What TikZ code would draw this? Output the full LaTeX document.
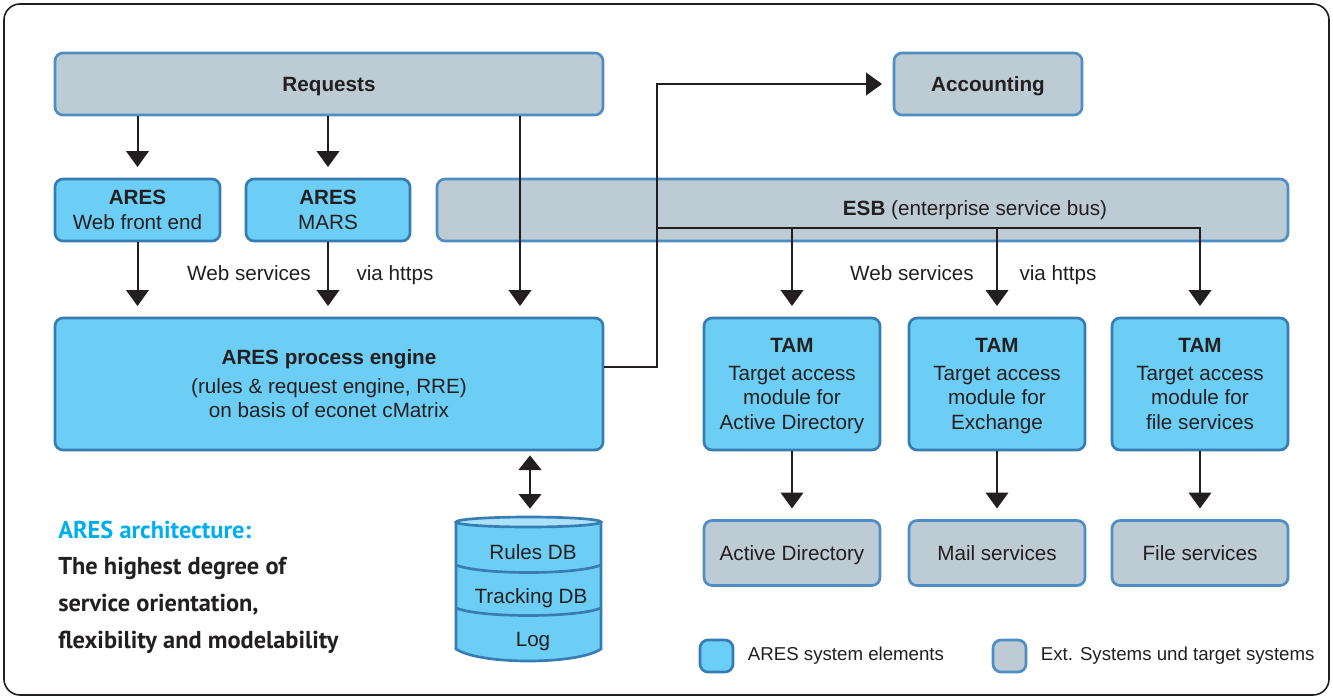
\documentclass[tikz,border=0pt]{standalone}
\usepackage{fontspec}
\setmainfont{Liberation Sans}
\newfontfamily\notefont{PT Sans}
\usetikzlibrary{arrows.meta,positioning}

\definecolor{aresfill}{RGB}{108,206,245}
\definecolor{aresline}{RGB}{55,125,180}
\definecolor{extfill}{RGB}{189,203,212}
\definecolor{extline}{RGB}{78,142,196}
\definecolor{dbtopfill}{RGB}{170,226,249}
\definecolor{titlecyan}{RGB}{0,174,239}
\definecolor{ink}{RGB}{35,31,32}

\newcommand\tstrut{\rule[-3.5pt]{0pt}{17.5pt}}

\tikzset{
  every node/.style={text=ink, font=\fontsize{15.5}{18.5}\selectfont},
  sz/.style 2 args={minimum width=#1*0.75pt, minimum height=#2*0.75pt},
  aresbox/.style={draw=aresline, fill=aresfill, line width=2pt, rounded corners=6pt, align=center, inner sep=0pt},
  extbox/.style={draw=extline, fill=extfill, line width=2pt, rounded corners=6pt, align=center, inner sep=0pt},
  arr/.style={draw=ink, line width=1.5pt, -{Triangle[width=17pt,length=12pt]}, shorten >=8pt},
  darr/.style={draw=ink, line width=1.5pt, {Triangle[width=17pt,length=11pt]}-{Triangle[width=17pt,length=11pt]}, shorten <=3pt, shorten >=7pt},
  dbshape/.style={draw=aresline, fill=aresfill, line width=2pt},
  note/.style={inner sep=0pt, align=left, font=\notefont\bfseries\fontsize{18.3}{27.75}\selectfont},
  lgtext/.style={inner sep=0pt, font=\fontsize{14}{16}\selectfont}
}

\begin{document}
\begin{tikzpicture}[x=0.75pt,y=0.75pt,yscale=-1,xscale=1]
\useasboundingbox (0,0) rectangle (1333,699);
%Frame
\draw[ink, line width=1.2pt, rounded corners=12pt] (4,4) rectangle (1329,695);

%Top row
\node[extbox, sz={548}{62}] (req) at (329,84) {\tstrut\textbf{Requests}};
\node[extbox, sz={188}{62}] (acc) at (988,84) {\tstrut\textbf{Accounting}};

%Second row
\node[aresbox, sz={165}{62}] (fe) at (137.5,210) {\tstrut\textbf{ARES}\\Web front end\tstrut};
\node[aresbox, sz={164}{62}] (mars) at (328,210) {\tstrut\textbf{ARES}\\MARS\tstrut};
\node[extbox, sz={851}{62}] (esb) at (862.5,210) {};
\node (esbtxt) at (975,208) {\tstrut\textbf{ESB} (enterprise service bus)};

%Engine and target access modules
\node[aresbox, sz={548}{132}] (eng) at (329,384) {\tstrut\textbf{ARES process engine}\\[3pt](rules \& request engine, RRE)\\on basis of econet cMatrix\tstrut};
\node[aresbox, sz={176}{132}] (tam1) at (792,384) {\tstrut\textbf{TAM}\\[2pt]Target access\\module for\\Active Directory\tstrut};
\node[aresbox, sz={176}{132}] (tam2) at (997,384) {\tstrut\textbf{TAM}\\[2pt]Target access\\module for\\Exchange\tstrut};
\node[aresbox, sz={176}{132}] (tam3) at (1200,384) {\tstrut\textbf{TAM}\\[2pt]Target access\\module for\\file services\tstrut};

%Target systems
\node[extbox, sz={176}{65}] (ad) at (792,553) {\tstrut Active Directory};
\node[extbox, sz={176}{65}] (mail) at (997,553) {\tstrut Mail services};
\node[extbox, sz={176}{65}] (files) at (1200,553) {\tstrut File services};

%Database
\draw[dbshape] (456,522) -- (456,649) .. controls (480,665) and (577,665) .. (601,649) -- (601,522);
\draw[dbshape] (456,565) .. controls (480,575) and (577,575) .. (601,565);
\draw[dbshape] (456,608) .. controls (480,618) and (577,618) .. (601,608);
\draw[dbshape, fill=dbtopfill] (528.5,522) ellipse [x radius=72.5, y radius=5];
\node (rules) at (533,552) {\tstrut Rules DB};
\node (track) at (531,596) {\tstrut Tracking DB};
\node (log) at (533,639) {\tstrut Log};
\coordinate (dbtop) at (530,518);

%Connectors
\coordinate (bus) at (657,228);
\coordinate (c3) at (520,0);
\coordinate (ey) at (0,367);
\draw[arr] (req.south -| fe) -- (fe);
\draw[arr] (req.south -| mars) -- (mars);
\draw[arr] (req.south -| c3) -- (eng.north -| c3);
\draw[arr] (fe) -- (fe |- eng.north);
\draw[arr] (mars) -- (mars |- eng.north);
\draw[arr] (eng.east |- ey) -| (bus |- acc) -- (acc);
\draw[arr] (bus) -| (tam1);
\draw[arr] (bus) -| (tam2);
\draw[arr] (bus) -| (tam3);
\draw[arr] (tam1) -- (ad);
\draw[arr] (tam2) -- (mail);
\draw[arr] (tam3) -- (files);
\draw[darr] (eng.south -| dbtop) -- (dbtop);

%Labels
\node (ws1) at (249,273) {\tstrut Web services};
\node (vh1) at (395,273) {\tstrut via https};
\node (ws2) at (912,273) {\tstrut Web services};
\node (vh2) at (1058,273) {\tstrut via https};

%Caption
\node[note, anchor=west, text=titlecyan] (ttl) at (58,530) {ARES architecture:};
\node[note, below right=13pt and 0pt of ttl.south west] (sub) {The highest degree of\\service orientation,\\flexibility and modelability};

%Legend
\node[aresbox, sz={33}{32}] (lg1) at (716.5,656) {};
\node[lgtext, right=10pt of lg1] (lg1t) {ARES system elements};
\node[extbox, sz={33}{32}] (lg2) at (1009.5,656) {};
\node[lgtext, right=10pt of lg2] (lg2t) {Ext. Systems und target systems};
\end{tikzpicture}
\end{document}
